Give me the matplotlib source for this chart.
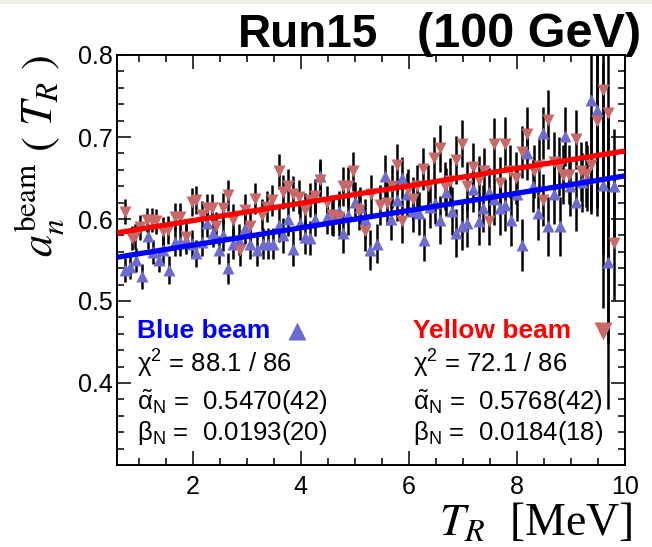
import numpy as np
import matplotlib
matplotlib.use("Agg")
import matplotlib.pyplot as plt
from matplotlib.ticker import MultipleLocator, FixedLocator, FormatStrFormatter
from matplotlib.patches import Rectangle

plt.rcParams['font.family'] = ['Liberation Sans', 'DejaVu Sans']
plt.rcParams['mathtext.fontset'] = 'custom'
plt.rcParams['mathtext.rm'] = 'Liberation Sans'
plt.rcParams['mathtext.it'] = 'Liberation Sans:italic'
plt.rcParams['mathtext.bf'] = 'Liberation Sans:bold'

# ---------------- data ----------------
T_red = [0.75, 0.87, 0.93, 1.03, 1.15, 1.24, 1.33, 1.45, 1.55, 1.67, 1.77, 1.88, 1.98,
         2.07, 2.17, 2.26, 2.35, 2.43, 2.57, 2.66, 2.75, 2.88, 2.97,
         3.06, 3.15, 3.28, 3.37, 3.46, 3.59, 3.68, 3.77, 3.86, 3.96,
         4.08, 4.17, 4.26, 4.36, 4.48, 4.57, 4.70, 4.79, 4.88, 4.97,
         5.07, 5.19, 5.30, 5.47, 5.59, 5.68, 5.78, 5.87, 5.99,
         6.08, 6.15, 6.27, 6.36, 6.47, 6.58, 6.67, 6.76, 6.87, 6.98,
         7.08, 7.19, 7.29, 7.39, 7.49, 7.58, 7.69, 7.78, 7.87, 7.98,
         8.09, 8.18, 8.31, 8.40, 8.48, 8.58, 8.68, 8.77, 8.86, 8.97,
         9.09, 9.18, 9.28, 9.38, 9.49, 9.59, 9.69, 9.80]
a_red = [0.609, 0.577, 0.579, 0.590, 0.599, 0.599, 0.597, 0.585, 0.587, 0.603, 0.603, 0.578, 0.621,
         0.623, 0.605, 0.613, 0.613, 0.591, 0.613, 0.629, 0.599, 0.562, 0.611,
         0.591, 0.625, 0.605, 0.615, 0.623, 0.658, 0.633, 0.640, 0.631, 0.627,
         0.611, 0.623, 0.628, 0.648, 0.619, 0.605, 0.603, 0.640, 0.640, 0.658,
         0.611, 0.585, 0.630, 0.617, 0.619, 0.640, 0.666, 0.597, 0.635,
         0.625, 0.640, 0.661, 0.640, 0.674, 0.686, 0.640, 0.646, 0.672, 0.692,
         0.640, 0.664, 0.648, 0.658, 0.597, 0.691, 0.644, 0.692, 0.658, 0.650,
         0.682, 0.704, 0.658, 0.665, 0.623, 0.721, 0.670, 0.664, 0.654, 0.654,
         0.697, 0.658, 0.655, 0.666, 0.719, 0.757, 0.729, 0.571]
e_red = [0.015, 0.015, 0.015, 0.015, 0.015, 0.015, 0.015, 0.017, 0.017, 0.017, 0.017, 0.017, 0.017,
         0.017, 0.017, 0.017, 0.017, 0.017, 0.019, 0.019, 0.019, 0.019, 0.019,
         0.019, 0.019, 0.019, 0.019, 0.019, 0.021, 0.021, 0.021, 0.021, 0.021,
         0.021, 0.021, 0.021, 0.021, 0.021, 0.024, 0.024, 0.024, 0.024, 0.024,
         0.024, 0.024, 0.024, 0.024, 0.026, 0.026, 0.026, 0.026, 0.026,
         0.026, 0.026, 0.026, 0.026, 0.026, 0.029, 0.029, 0.029, 0.029, 0.029,
         0.029, 0.029, 0.029, 0.029, 0.029, 0.032, 0.032, 0.032, 0.032, 0.032,
         0.032, 0.032, 0.032, 0.032, 0.032, 0.036, 0.036, 0.036, 0.036, 0.036,
         0.036, 0.036, 0.040, 0.060, 0.115, 0.200, 0.280, 0.070]

T_blue = [0.75, 0.84, 0.96, 1.07, 1.18, 1.27, 1.37, 1.46, 1.57, 1.67, 1.77, 1.88, 1.98,
          2.07, 2.17, 2.27, 2.38, 2.48, 2.57, 2.66, 2.75, 2.86, 2.97,
          3.06, 3.19, 3.31, 3.40, 3.49, 3.59, 3.68, 3.77, 3.86, 3.99,
          4.08, 4.17, 4.26, 4.36, 4.48, 4.60, 4.70, 4.79, 4.88, 5.00,
          5.10, 5.19, 5.28, 5.41, 5.56, 5.67, 5.78, 5.87, 5.96,
          6.07, 6.18, 6.28, 6.39, 6.49, 6.58, 6.69, 6.79, 6.87, 6.98,
          7.08, 7.18, 7.29, 7.38, 7.49, 7.58, 7.69, 7.78, 7.89, 8.00,
          8.09, 8.18, 8.29, 8.39, 8.48, 8.58, 8.68, 8.79, 8.89, 8.98,
          9.09, 9.20, 9.29, 9.38, 9.49, 9.59, 9.69, 9.80]
a_blue = [0.538, 0.542, 0.550, 0.530, 0.579, 0.560, 0.550, 0.562, 0.538, 0.572, 0.572, 0.574, 0.570,
          0.558, 0.572, 0.595, 0.583, 0.562, 0.580, 0.540, 0.570, 0.575, 0.589,
          0.570, 0.562, 0.570, 0.570, 0.570, 0.593, 0.580, 0.600, 0.564, 0.595,
          0.578, 0.577, 0.600, 0.652, 0.603, 0.603, 0.610, 0.583, 0.605, 0.621,
          0.615, 0.600, 0.562, 0.570, 0.652, 0.600, 0.623, 0.650, 0.630,
          0.610, 0.607, 0.575, 0.615, 0.620, 0.599, 0.633, 0.610, 0.583, 0.591,
          0.595, 0.637, 0.597, 0.613, 0.633, 0.625, 0.613, 0.617, 0.599, 0.630,
          0.568, 0.680, 0.640, 0.607, 0.705, 0.591, 0.630, 0.591, 0.701, 0.640,
          0.621, 0.645, 0.650, 0.745, 0.733, 0.642, 0.548, 0.640]
e_blue = [0.015, 0.015, 0.015, 0.015, 0.015, 0.015, 0.015, 0.017, 0.017, 0.017, 0.017, 0.017, 0.017,
          0.017, 0.017, 0.017, 0.017, 0.017, 0.019, 0.019, 0.019, 0.019, 0.019,
          0.019, 0.019, 0.019, 0.019, 0.019, 0.021, 0.021, 0.021, 0.021, 0.021,
          0.021, 0.021, 0.021, 0.021, 0.021, 0.024, 0.024, 0.024, 0.024, 0.024,
          0.024, 0.024, 0.024, 0.024, 0.026, 0.026, 0.026, 0.026, 0.026,
          0.026, 0.026, 0.026, 0.026, 0.026, 0.029, 0.029, 0.029, 0.029, 0.029,
          0.029, 0.029, 0.029, 0.029, 0.029, 0.032, 0.032, 0.032, 0.032, 0.032,
          0.032, 0.032, 0.032, 0.032, 0.032, 0.036, 0.036, 0.036, 0.036, 0.036,
          0.036, 0.036, 0.040, 0.135, 0.120, 0.150, 0.180, 0.070]

# fit parameters shown on the chart: a = alpha * (1 + beta * T)
alpha_blue, beta_blue = 0.5470, 0.0193
alpha_red, beta_red = 0.5768, 0.0184

y_ticks = [0.4, 0.5, 0.6, 0.7, 0.8]
x_ticks = [2, 4, 6, 8, 10]

BLUE_MK = '#6b6bd0'
RED_MK = '#c86868'

W, H = 652, 547
fig = plt.figure(figsize=(W / 100, H / 100), dpi=100)
fig.patch.set_facecolor('white')
fig.patches.append(Rectangle((0, 1 - 4 / H), 1, 4 / H, transform=fig.transFigure,
                             facecolor='#efefe2', edgecolor='none', zorder=0))

ax = fig.add_axes([117 / W, (H - 465) / H, 508 / W, 410 / H])
ax.set_xlim(0.6, 10.0)
ax.set_ylim(0.3, 0.8)

ax.errorbar(T_blue, a_blue, yerr=e_blue, fmt='none', ecolor='black', elinewidth=1.8,
            capsize=0, zorder=2)
ax.errorbar(T_red, a_red, yerr=e_red, fmt='none', ecolor='black', elinewidth=1.8,
            capsize=0, zorder=2)
ax.plot(T_blue, a_blue, linestyle='none', marker='^', ms=8, color=BLUE_MK, mec='none', zorder=3)
ax.plot(T_red, a_red, linestyle='none', marker='v', ms=8, color=RED_MK, mec='none', zorder=3)

xf = np.array(ax.get_xlim())
ax.plot(xf, alpha_blue * (1 + beta_blue * xf), color='#0000ff', lw=3.8, zorder=4,
        solid_capstyle='butt')
ax.plot(xf, alpha_red * (1 + beta_red * xf), color='#ff0000', lw=3.8, zorder=4,
        solid_capstyle='butt')

ax.xaxis.set_major_locator(FixedLocator(x_ticks))
ax.xaxis.set_minor_locator(MultipleLocator(0.5))
ax.yaxis.set_major_locator(FixedLocator(y_ticks))
ax.yaxis.set_minor_locator(MultipleLocator(0.02))
ax.xaxis.set_major_formatter(FormatStrFormatter('%g'))
ax.yaxis.set_major_formatter(FormatStrFormatter('%.1f'))
ax.tick_params(which='both', direction='in', top=True, right=True, width=1.1, color='black')
ax.tick_params(which='major', length=10)
ax.tick_params(which='minor', length=5)
ax.tick_params(axis='x', which='major', labelsize=18, pad=7)
ax.tick_params(axis='y', which='major', labelsize=18, pad=3)
for sp in ax.spines.values():
    sp.set_linewidth(1.4)

# axis titles
fig.text(632 / W, 1 - 535 / H, r'$T_R$  [MeV]', ha='right', va='baseline',
         fontsize=33, math_fontfamily='stix', family='Liberation Serif')
fig.text(40 / W, 1 - 55 / H, r'$a_n^{\rm beam}\ (\ T_R\ )$', rotation=90,
         ha='center', va='top', fontsize=32, math_fontfamily='stix')

# title
fig.text(238 / W, 1 - 47 / H, 'Run15', fontsize=33, fontweight='bold', ha='left', va='baseline')
fig.text(417 / W, 1 - 47 / H, '(100 GeV)', fontsize=35, fontweight='bold', ha='left',
         va='baseline')

# fit result annotations
def ftxt(x, y, s, **kw):
    fig.text(x / W, 1 - y / H, s, ha='left', va='baseline', **kw)

ftxt(137, 338, 'Blue beam', fontsize=19, fontweight='bold', color='#0000ff')
ftxt(413, 338, 'Yellow beam', fontsize=19, fontweight='bold', color='#ff0000')
ax.plot([297 / W], [1 - 331 / H], marker='^', ms=13, color=BLUE_MK, mec='none',
        transform=fig.transFigure, clip_on=False, zorder=5)
ax.plot([603 / W], [1 - 331 / H], marker='v', ms=13, color=RED_MK, mec='none',
        transform=fig.transFigure, clip_on=False, zorder=5)

ftxt(137, 373, r'$\mathrm{\chi}^2$ = 88.1 / 86', fontsize=18.5)
ftxt(137, 410, r'$\tilde{\mathrm{\alpha}}_{\rm N}$ =  0.5470(42)', fontsize=18.5)
ftxt(137, 440, r'$\mathrm{\beta}_{\rm N}$ =  0.0193(20)', fontsize=18.5)
ftxt(413, 373, r'$\mathrm{\chi}^2$ = 72.1 / 86', fontsize=18.5)
ftxt(413, 410, r'$\tilde{\mathrm{\alpha}}_{\rm N}$ =  0.5768(42)', fontsize=18.5)
ftxt(413, 440, r'$\mathrm{\beta}_{\rm N}$ =  0.0184(18)', fontsize=18.5)

fig.savefig('out.png', dpi=100)
